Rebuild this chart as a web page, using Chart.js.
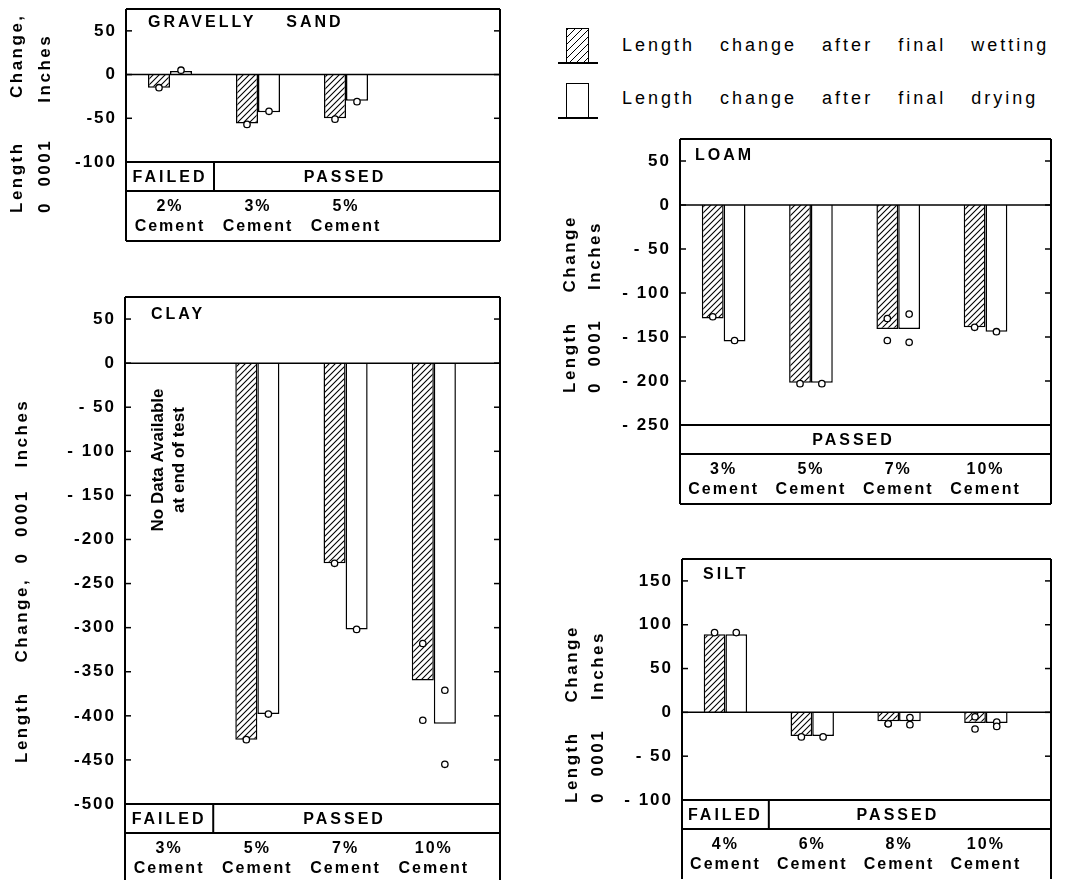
<!DOCTYPE html>
<html>
<head>
<meta charset="utf-8">
<title>Length change of soil-cement specimens</title>
<script src="https://cdn.jsdelivr.net/npm/chart.js@4.4.0/dist/chart.umd.min.js"></script>
<style>
  body { margin: 0; background: #fff; width: 1065px; height: 880px; position: relative; overflow: hidden;
         font-family: "Liberation Sans", Arial, sans-serif; }
  canvas.panel { position: absolute; }
  .key { position: absolute; left: 558px; width: 40px; height: 34px; border-bottom: 2px solid #000; }
  .key i { position: absolute; left: 8px; top: 0; bottom: 0; width: 21px; border: 1.5px solid #000; border-bottom: 0; }
  .key.wet i { background: repeating-linear-gradient(135deg, #000 0 1px, #fff 1px 5px); }
  .keyText { position: absolute; left: 622px; font-size: 18px; line-height: 20px; letter-spacing: 3px; word-spacing: 17px; }
</style>
</head>
<body>
<div class="key wet" style="top:28px"><i></i></div>
<div class="keyText" style="top:35px">Length change after final wetting</div>
<div class="key" style="top:83px"><i></i></div>
<div class="keyText" style="top:88px">Length change after final drying</div>

<canvas id="gravellySand" class="panel"></canvas>
<canvas id="clay" class="panel"></canvas>
<canvas id="loam" class="panel"></canvas>
<canvas id="silt" class="panel"></canvas>

<script>
// values, 0.0001 inches
const gsCats = ['2%', '3%', '5%'];
const gsStatus = ['FAILED', 'PASSED', 'PASSED'];
const gsWet = [-15, -56, -50];
const gsDry = [4, -43, -30];
const gsWetPts = [[-15], [-57], [-51]];
const gsDryPts = [[5], [-42], [-31]];

const clayCats = ['3%', '5%', '7%', '10%'];
const clayStatus = ['FAILED', 'PASSED', 'PASSED', 'PASSED'];
const clayWet = [null, -427, -227, -360];
const clayDry = [null, -398, -302, -409];
const clayWetPts = [[], [-427], [-227], [-318, -405]];
const clayDryPts = [[], [-398], [-302], [-371, -455]];

const loamCats = ['3%', '5%', '7%', '10%'];
const loamStatus = ['PASSED', 'PASSED', 'PASSED', 'PASSED'];
const loamWet = [-129, -202, -141, -139];
const loamDry = [-155, -202, -141, -144];
const loamWetPts = [[-127], [-203], [-129, -154], [-139]];
const loamDryPts = [[-154], [-203], [-124, -156], [-144]];

const siltCats = ['4%', '6%', '8%', '10%'];
const siltStatus = ['FAILED', 'PASSED', 'PASSED', 'PASSED'];
const siltWet = [89, -27, -10, -12];
const siltDry = [89, -27, -10, -12];
const siltWetPts = [[91], [-28], [-13, -13], [-5, -19]];
const siltDryPts = [[91], [-28], [-6, -14], [-11, -16]];

const FONT = '"Liberation Sans", Arial, sans-serif';
const CAT_PCT = 0.5;

const panels = [
  { id: 'gravellySand', title: 'GRAVELLY    SAND', cats: gsCats, status: gsStatus,
    wet: gsWet, dry: gsDry, wetPts: gsWetPts, dryPts: gsDryPts, yMin: -100, yMax: 75, gapTo: 0,
    canvas: [0, 0, 510, 250], plot: [126, 9, 500, 162], titleAt: [22, 14],
    yTitle: ['Length      Change,', '0  0001     Inches'], yTitleX: [17, 45], yTitleBottom: 213 },
  { id: 'clay', title: 'CLAY', cats: clayCats, status: clayStatus,
    wet: clayWet, dry: clayDry, wetPts: clayWetPts, dryPts: clayDryPts, yMin: -500, yMax: 75, gapTo: 150,
    canvas: [0, 285, 510, 595], plot: [125, 297, 500, 804], titleAt: [26, 18], openBottom: true,
    yTitle: ['Length    Change,  0  0001   Inches'], yTitleX: [22], yTitleBottom: 478,
    note: ['No Data Available', 'at end of test'], noteY: 175 },
  { id: 'loam', title: 'LOAM', cats: loamCats, status: loamStatus,
    wet: loamWet, dry: loamDry, wetPts: loamWetPts, dryPts: loamDryPts, yMin: -250, yMax: 75, gapTo: 1000,
    canvas: [540, 130, 520, 380], plot: [680, 139, 1051, 425], titleAt: [15, 17],
    yTitle: ['Length    Change', '0  0001    Inches'], yTitleX: [30, 55], yTitleBottom: 263 },
  { id: 'silt', title: 'SILT', cats: siltCats, status: siltStatus,
    wet: siltWet, dry: siltDry, wetPts: siltWetPts, dryPts: siltDryPts, yMin: -100, yMax: 175, gapTo: 1000,
    canvas: [540, 545, 520, 335], plot: [682, 559, 1051, 800], titleAt: [21, 16], openBottom: true,
    yTitle: ['Length    Change', '0  0001    Inches'], yTitleX: [32, 58], yTitleBottom: 258 }
];

const hatch = (() => {
  const c = document.createElement('canvas');
  c.width = c.height = 6;
  const g = c.getContext('2d');
  g.fillStyle = '#fff';
  g.fillRect(0, 0, 6, 6);
  g.strokeStyle = '#000';
  g.lineWidth = 1.1;
  g.beginPath();
  g.moveTo(-1, 7); g.lineTo(7, -1);
  g.moveTo(-1, 1); g.lineTo(1, -1);
  g.moveTo(5, 7); g.lineTo(7, 5);
  g.stroke();
  return g.createPattern(c, 'repeat');
})();

const vText = (ctx, text, x, y, align) => {
  ctx.save();
  ctx.translate(x, y);
  ctx.rotate(-Math.PI / 2);
  ctx.textAlign = align;
  ctx.textBaseline = 'middle';
  ctx.fillText(text, 0, 0);
  ctx.restore();
};

const frame = (p) => ({
  id: 'frame',
  beforeDraw(chart) { chart.ctx.letterSpacing = '2px'; },
  afterDraw(chart) {
    const { ctx, chartArea: a, scales: { x, y } } = chart;
    const rowB = a.bottom + 29, catB = rowB + 50;
    const seg = (x1, y1, x2, y2) => { ctx.beginPath(); ctx.moveTo(x1, y1); ctx.lineTo(x2, y2); ctx.stroke(); };
    ctx.save();
    ctx.strokeStyle = '#000';
    ctx.fillStyle = '#000';

    ctx.lineWidth = 1.5;
    const y0 = y.getPixelForValue(0);
    seg(a.left, y0, a.right, y0);
    y.ticks.forEach(t => {
      const py = y.getPixelForValue(t.value);
      seg(a.left, py, a.left + 6, py);
      seg(a.right - 6, py, a.right, py);
    });

    ctx.lineWidth = 2;
    seg(a.left, a.top, a.right, a.top);
    seg(a.left, a.top, a.left, catB);
    seg(a.right, a.top, a.right, catB);
    seg(a.left, a.bottom, a.right, a.bottom);
    seg(a.left, rowB, a.right, rowB);
    if (!p.openBottom) seg(a.left, catB, a.right, catB);

    // FAILED / PASSED row
    ctx.font = 'bold 16px ' + FONT;
    ctx.letterSpacing = '3px';
    ctx.textAlign = 'center';
    ctx.textBaseline = 'middle';
    let i = 0;
    while (i < p.status.length) {
      let j = i;
      while (j + 1 < p.status.length && p.status[j + 1] === p.status[i]) j++;
      const last = j === p.status.length - 1;
      const x1 = i === 0 ? a.left : x.getPixelForValue(i + 0.5);
      const x2 = last ? a.right : x.getPixelForValue(j + 1.5);
      if (i > 0) seg(x1, a.bottom, x1, rowB);
      ctx.fillText(p.status[i], (x1 + x2) / 2 + (last ? -12 : 0), (a.bottom + rowB) / 2 + 1);
      i = j + 1;
    }

    // soil name
    ctx.textAlign = 'left';
    ctx.fillText(p.title, a.left + p.titleAt[0], a.top + p.titleAt[1]);

    // axis title
    ctx.font = 'bold 17px ' + FONT;
    ctx.letterSpacing = '2.5px';
    p.yTitle.forEach((t, k) => vText(ctx, t, p.yTitleX[k], p.yTitleBottom, 'left'));

    if (p.note) {
      ctx.font = 'bold 17px ' + FONT;
      ctx.letterSpacing = '0px';
      const cx = x.getPixelForValue(1);
      vText(ctx, p.note[0], cx - 11, p.noteY, 'center');
      vText(ctx, p.note[1], cx + 10, p.noteY, 'center');
    }
    ctx.restore();
  }
});

const bars = (vals) => vals.map((v, i) => ({ x: i + 1, y: v })).filter(d => d.y !== null);
const dots = (pts, side) => pts.flatMap((vals, i) => vals.map(v => ({ x: i + 1 + side * CAT_PCT / 4, y: v })));

panels.forEach(p => {
  const [cx, cy, cw, ch] = p.canvas;
  const [pl, pt, pr, pb] = p.plot;
  const el = document.getElementById(p.id);
  el.width = cw;
  el.height = ch;
  el.style.left = cx + 'px';
  el.style.top = cy + 'px';

  const dotStyle = { pointRadius: 3.2, pointBorderWidth: 1.3, pointBackgroundColor: '#fff', pointBorderColor: '#000', order: 1 };

  new Chart(el, {
    type: 'bar',
    data: {
      datasets: [
        { label: 'Length change after final wetting', data: bars(p.wet), backgroundColor: hatch,
          borderColor: '#000', borderWidth: 1.5, categoryPercentage: CAT_PCT, barPercentage: 1, order: 2 },
        { label: 'Length change after final drying', data: bars(p.dry), backgroundColor: '#fff',
          borderColor: '#000', borderWidth: 1.5, categoryPercentage: CAT_PCT, barPercentage: 1, order: 2 },
        { type: 'scatter', label: 'wetting readings', data: dots(p.wetPts, -1), ...dotStyle },
        { type: 'scatter', label: 'drying readings', data: dots(p.dryPts, 1), ...dotStyle }
      ]
    },
    options: {
      responsive: false,
      animation: false,
      events: [],
      layout: { padding: { left: 0, top: pt - cy, right: cx + cw - pr, bottom: 0 } },
      plugins: { legend: { display: false }, tooltip: { enabled: false } },
      scales: {
        x: {
          type: 'linear', min: 0.5, max: 4.75, offset: false,
          grid: { display: false, drawTicks: false, offset: false },
          border: { display: false },
          afterBuildTicks: s => { s.ticks = p.cats.map((c, i) => ({ value: i + 1 })); },
          afterFit: s => { s.height = cy + ch - pb; s.paddingLeft = 0; s.paddingRight = 0; },
          ticks: {
            autoSkip: false, maxRotation: 0, padding: 35, color: '#000',
            font: { family: FONT, size: 16, weight: 'bold', lineHeight: 1.25 },
            callback: (v, i) => [p.cats[i], 'Cement']
          }
        },
        y: {
          min: p.yMin, max: p.yMax,
          grid: { display: false, drawTicks: false },
          border: { display: false },
          afterBuildTicks: s => { s.ticks = s.ticks.filter(t => t.value % 50 === 0); },
          afterFit: s => { s.width = pl - cx; s.paddingTop = 0; s.paddingBottom = 0; },
          ticks: {
            stepSize: 50, padding: 9, color: '#000',
            font: { family: FONT, size: 17, weight: 'bold' },
            callback: v => v < 0 ? (-v <= p.gapTo ? '- ' : '-') + Math.abs(v) : String(v)
          }
        }
      }
    },
    plugins: [frame(p)]
  });
});
</script>
</body>
</html>
